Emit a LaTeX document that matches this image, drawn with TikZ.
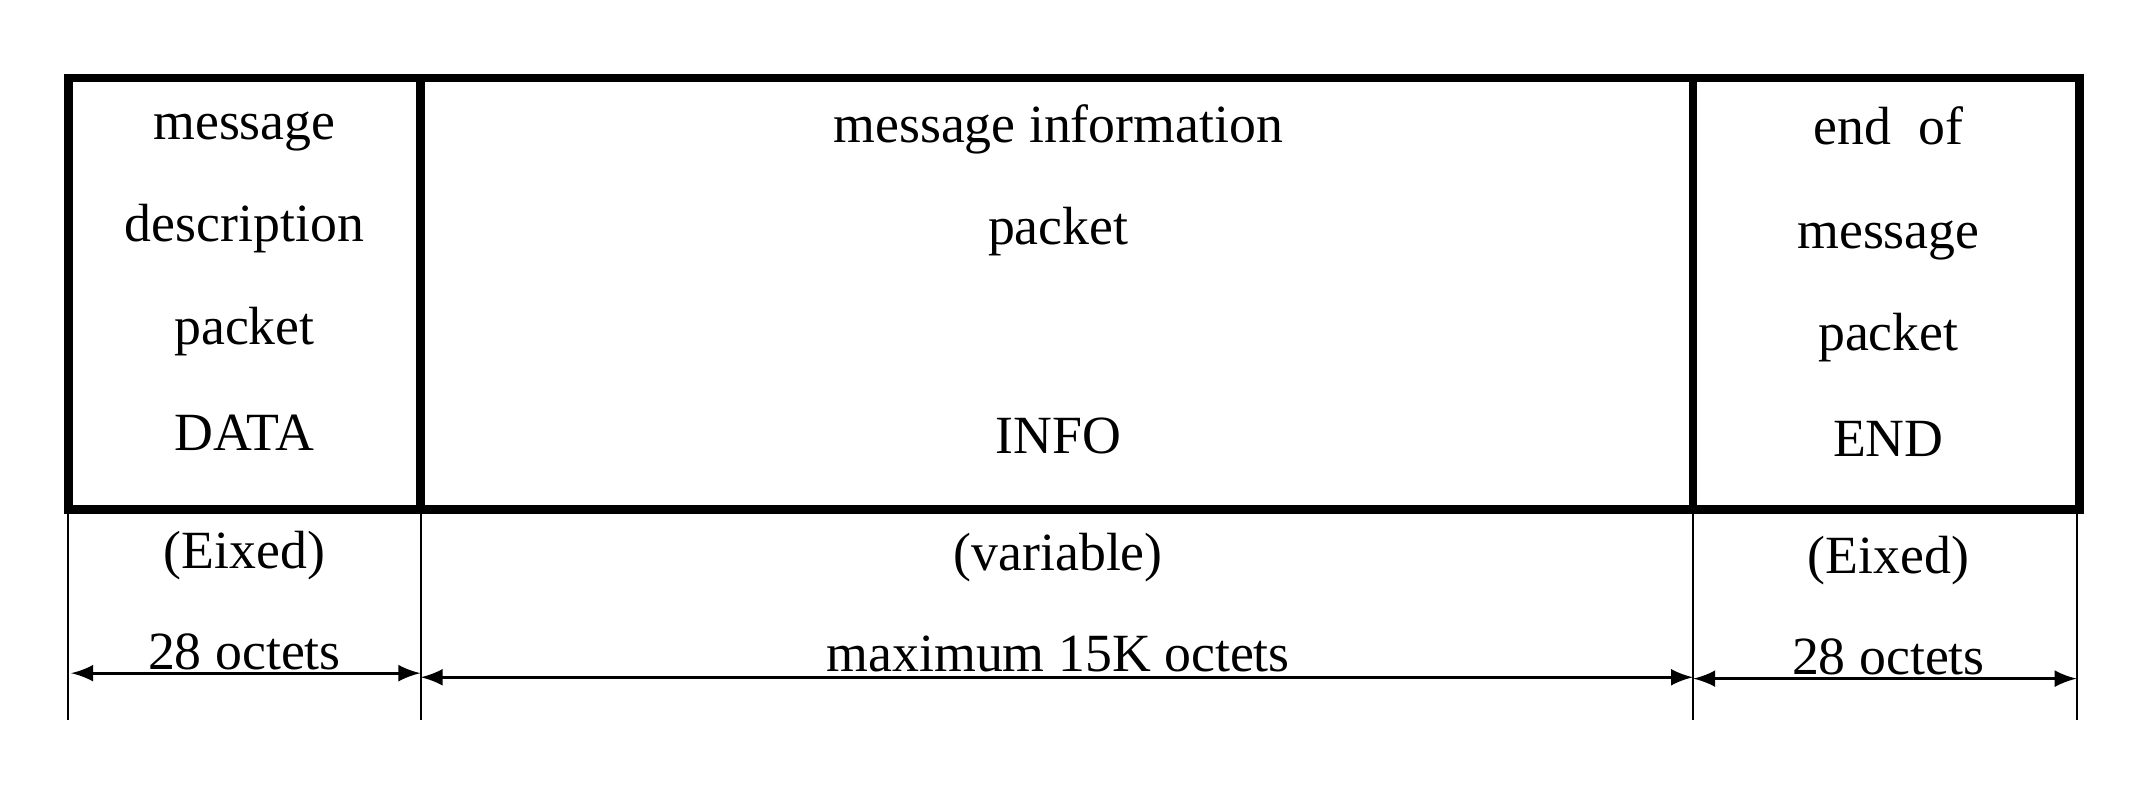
\documentclass[tikz,border=0pt]{standalone}
\usepackage{fontspec}
\setmainfont{Liberation Serif}
\tikzset{
  frame/.style={line width=1.8pt},
  tick/.style={line width=0.4pt},
  span/.style={line width=0.6pt, <->, >=latex},
  lbl/.style={font=\fontsize{11.2}{13}\selectfont, inner sep=0pt, anchor=base}
}
\begin{document}
\begin{tikzpicture}[x=0.01cm, y=-0.01cm]
 \useasboundingbox (0,0) rectangle (1568,584);
 % outer frame and dividers
 \draw[frame] (50,57) rectangle (1523,373);
 \draw[frame] (308,57) -- (308,373);
 \draw[frame] (1240,57) -- (1240,373);
 % dimension ticks
 \foreach \x in {50,308,1240,1521}
   \draw[tick] (\x,373) -- (\x,527);
 \coordinate (pA) at (52,493);
 \coordinate (pB) at (308,493);
 \coordinate (pB2) at (308,496);
 \coordinate (pC) at (1240,496);
 \coordinate (pC2) at (1240,497);
 \coordinate (pD) at (1521,497);
 \draw[span] (pA) -- (pB);
 \draw[span] (pB2) -- (pC);
 \draw[span] (pC2) -- (pD);
 % left cell
 \node[lbl] (d1) at (179,102) {message};
 \node[lbl] (d2) at (179,177) {description};
 \node[lbl] (d3) at (179,252) {packet};
 \node[lbl] (d4) at (179,330) {DATA};
 % middle cell
 \node[lbl] (i1) at (775,104) {message information};
 \node[lbl] (i2) at (775,179) {packet};
 \node[lbl] (i4) at (775,332) {INFO};
 % right cell
 \node[lbl] (e1) at (1383,106) {end\ \ of};
 \node[lbl] (e2) at (1383,182) {message};
 \node[lbl] (e3) at (1383,257) {packet};
 \node[lbl] (e4) at (1383,334) {END};
 % sizes
 \node[lbl] (f1) at (179,416) {(Eixed)};
 \node[lbl] (f2) at (775,418) {(variable)};
 \node[lbl] (f3) at (1383,420) {(Eixed)};
 \node[lbl] (s1) at (179,490) {28 octets};
 \node[lbl] (s2) at (775,492) {maximum 15K octets};
 \node[lbl] (s3) at (1383,494) {28 octets};
\end{tikzpicture}
\end{document}
